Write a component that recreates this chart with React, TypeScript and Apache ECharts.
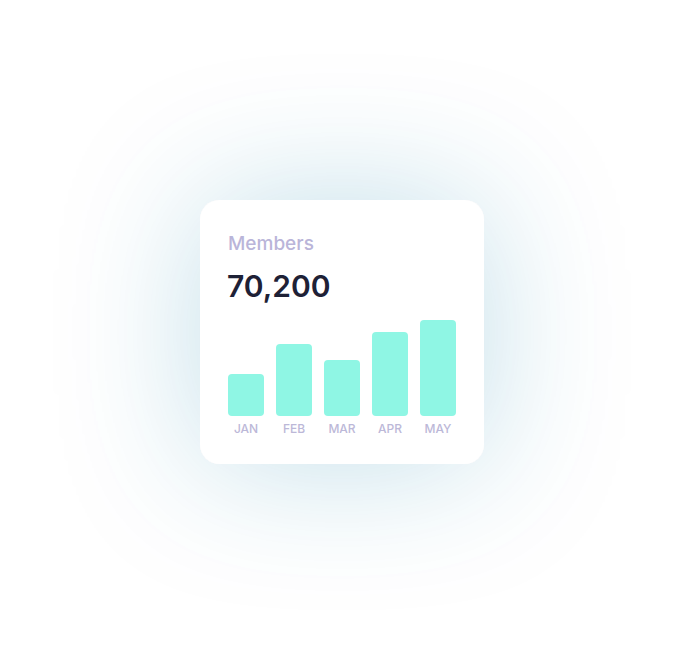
import React, { useEffect, useRef } from "react";
import * as echarts from "echarts";

const months = ["JAN", "FEB", "MAR", "APR", "MAY"];
const members = [42, 72, 56, 84, 96];
const cardTitle = "Members";
const cardTotal = "70,200";

export default function App() {
  const ref = useRef<HTMLDivElement>(null);
  useEffect(() => {
    if (!ref.current) return;
    const chart = echarts.init(ref.current, null, { renderer: "svg" });
    chart.setOption({
      animation: false,
      backgroundColor: "#ffffff",
      graphic: [
        {
          type: "rect",
          z: -10,
          shape: { x: 200, y: 200, width: 284, height: 264, r: 20 },
          style: {
            fill: "#ffffff",
            shadowBlur: 140,
            shadowColor: "rgba(40,120,160,0.24)",
            shadowOffsetX: 0,
            shadowOffsetY: 0,
          },
        },
        {
          type: "text",
          x: 228,
          y: 243,
          style: {
            text: cardTitle,
            fill: "#bab5d9",
            font: "500 19px Inter",
            textVerticalAlign: "middle",
          },
        },
        {
          type: "text",
          x: 227,
          y: 286,
          style: {
            text: cardTotal,
            fill: "#1e2136",
            font: "600 30px Inter",
            textVerticalAlign: "middle",
          },
        },
      ],
      grid: { left: 222, top: 320, width: 240, height: 96, containLabel: false },
      xAxis: {
        type: "category",
        data: months,
        axisLine: { show: false },
        axisTick: { show: false },
        axisLabel: {
          margin: 6,
          color: "#bcb8d8",
          fontFamily: "Inter",
          fontSize: 12,
          fontWeight: 500,
        },
      },
      yAxis: {
        type: "value",
        min: 0,
        max: 96,
        show: false,
        splitLine: { show: false },
      },
      series: [
        {
          type: "bar",
          data: members,
          barWidth: 36,
          itemStyle: { color: "#8ff6e4", borderRadius: 4 },
        },
      ],
    });
    return () => chart.dispose();
  }, []);
  return (
    <div
      ref={ref}
      style={{ position: "fixed", left: 0, top: 0, width: 684, height: 664 }}
    />
  );
}
